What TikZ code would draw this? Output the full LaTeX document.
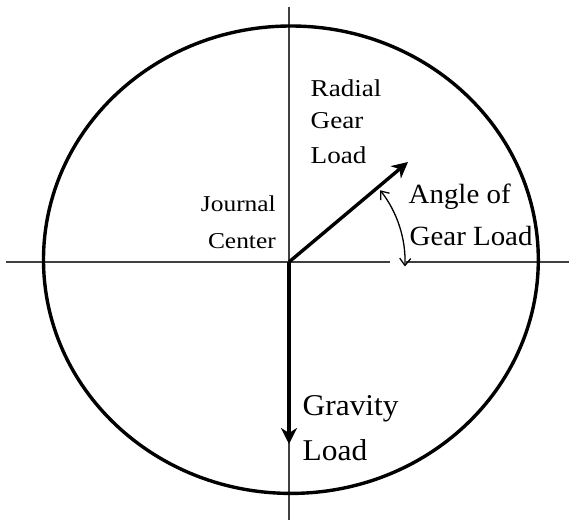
\documentclass[tikz,border=0pt]{standalone}
\usepackage{fontspec}
\setmainfont{Liberation Serif}
\newfontfamily\wideA[FakeStretch=1.12]{Liberation Serif}
\newfontfamily\wideB[FakeStretch=1.04]{Liberation Serif}
\usetikzlibrary{arrows.meta}
\begin{document}
\begin{tikzpicture}[x=1pt,y=-1pt,
  axis/.style={line width=1.4pt, black!75},
  rim/.style={line width=3.4pt},
  loadarrow/.style={line width=3.4pt, -{Stealth[length=16pt,width=16pt,inset=5pt]}},
  anglearc/.style={line width=1.3pt, {Straight Barb[length=7pt,width=11pt]}-{Straight Barb[length=7pt,width=11pt]}},
  labl/.style={inner sep=0pt, anchor=base west},
  labr/.style={inner sep=0pt, anchor=base east},
  fA/.style={font=\wideA\fontsize{24.2}{26}\selectfont},
  fJ/.style={font=\wideA\fontsize{22.7}{24}\selectfont},
  fB/.style={font=\wideB\fontsize{27.8}{30}\selectfont},
  fG/.style={font=\wideB\fontsize{30.2}{32}\selectfont}]
\useasboundingbox (0,0) rectangle (569,525);
% axes
\coordinate (O) at (289,262);
\coordinate (hl) at (6,262);
\coordinate (hgl) at (390,262);
\coordinate (hgr) at (406,262);
\coordinate (hr) at (569,262);
\coordinate (vt) at (289,6.5);
\coordinate (vb) at (289,520);
\draw[axis] (hl) -- (hgl);
\draw[axis] (hgr) -- (hr);
\draw[axis] (vt) -- (vb);
% journal outline
\draw[rim] (290.9,259.7) ellipse [x radius=247.4, y radius=233.7];
% loads
\coordinate (rt) at (408,162);
\coordinate (gt) at (289,444);
\draw[loadarrow] (O) -- (rt);
\draw[loadarrow] (O) -- (gt);
% angle
\coordinate (a1) at ([shift={(-38.2:116)}]O);
\draw[anglearc] (a1) arc[start angle=-38.2, end angle=2.2, radius=116];
% labels
\node[labl,fA] (r1) at (310.5,96) {Radial};
\node[labl,fA] (r2) at (310.5,128.5) {Gear};
\node[labl,fA] (r3) at (310.5,163) {Load};
\node[labr,fJ] (j1) at (276,211.5) {Journal};
\node[labr,fJ] (j2) at (276,248) {Center};
\node[labl,fB] (an1) at (408.5,203.3) {Angle of};
\node[labl,fB] (an2) at (409.5,245) {Gear Load};
\node[labl,fG] (g1) at (302.5,415) {Gravity};
\node[labl,fG] (g2) at (302.5,460) {Load};
\end{tikzpicture}
\end{document}
